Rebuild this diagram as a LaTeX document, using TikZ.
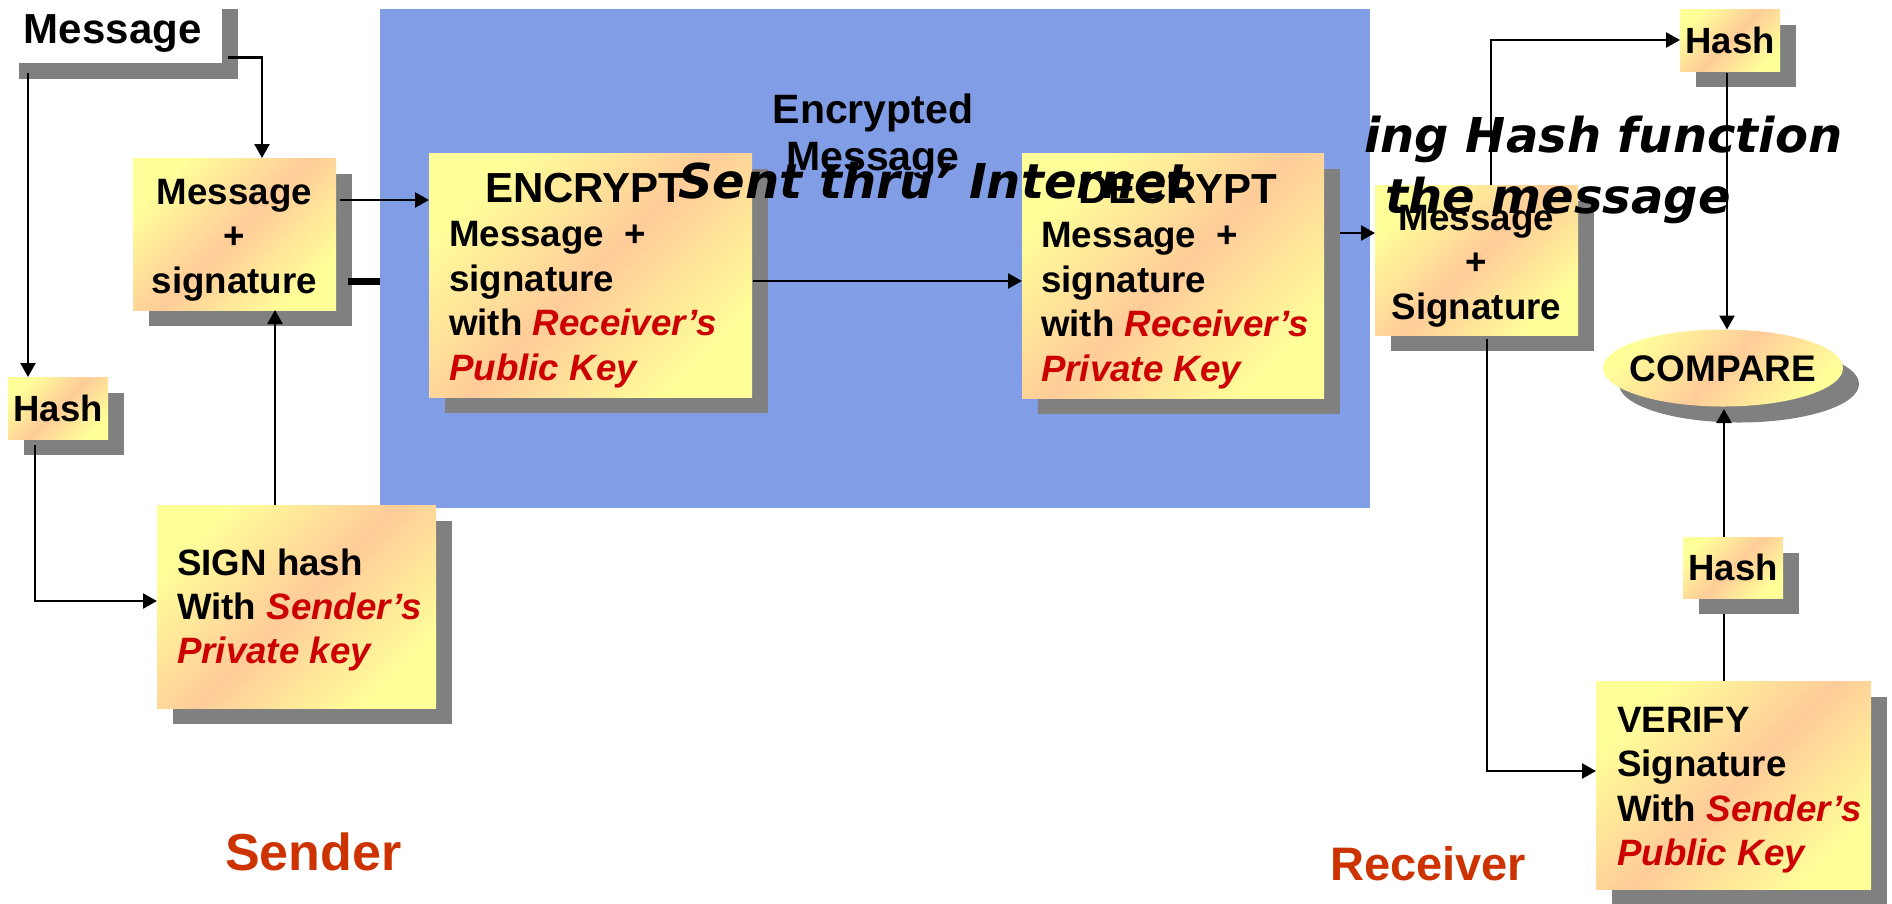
\documentclass[tikz,border=0pt]{standalone}
\usepackage{fontspec}
\setmainfont{Liberation Sans}
\newfontfamily\verdfont{DejaVu Sans}
\usetikzlibrary{arrows.meta,calc,shadows,shapes.geometric}
\definecolor{netblue}{RGB}{128,157,229}
\definecolor{shgray}{RGB}{128,128,128}
\definecolor{byel}{RGB}{255,255,153}
\definecolor{bpch}{RGB}{255,204,153}
\definecolor{keyred}{RGB}{204,0,0}
\definecolor{sidered}{RGB}{204,51,0}
\pgfdeclarehorizontalshading{boxsh}{100bp}{color(0bp)=(byel); color(25bp)=(byel); color(50bp)=(bpch); color(75bp)=(byel); color(100bp)=(byel)}
\newcommand\rk[1]{\textcolor{keyred}{\itshape #1}}
\newcommand\tstrut{\rule{0pt}{34pt}}
\begin{document}
\begin{tikzpicture}[x=1pt,y=-1pt,
  box/.style={rectangle, shading=boxsh, shading angle=-45,
    general shadow={fill=shgray, shadow xshift=16pt, shadow yshift=-16pt},
    inner sep=0pt, outer sep=0pt, anchor=north west},
  arr/.style={line width=2.5pt, -{Triangle[length=14pt,width=15pt]}},
  conn/.style={line width=2.5pt},
  txt/.style={inner sep=0pt, anchor=north west, align=left,
    font=\bfseries\fontsize{36.7}{44.5}\selectfont},
  lbl/.style={font=\bfseries\fontsize{36.5}{44}\selectfont, text height=26.3pt, text depth=0pt},
  side/.style={inner sep=0pt, anchor=base west, text=sidered},
  over/.style={inner sep=0pt, anchor=base west,
    font=\verdfont\bfseries\itshape\fontsize{48}{56}\selectfont}]
\useasboundingbox (0,0) rectangle (1892,903);

% network area
\node[rectangle, fill=netblue, inner sep=0pt, anchor=north west,
  minimum width=990pt, minimum height=499pt] (net) at (380,9) {};

% sender side
\node[rectangle, fill=white, general shadow={fill=shgray, shadow xshift=16pt, shadow yshift=-16pt},
  inner sep=0pt, anchor=north west, minimum width=219pt, minimum height=70pt,
  font=\bfseries\fontsize{42}{50}\selectfont, text height=30pt, text depth=0pt] (msgtop) at (3,-7) {Message};
\node[box, minimum width=203pt, minimum height=152pt] (mss) at (133,158) {};
\node[box, lbl, minimum width=100pt, minimum height=62pt] (hashL) at (8,377) {Hash};
\node[box, minimum width=279pt, minimum height=203pt] (sign) at (157,505) {};
\node[box, minimum width=323pt, minimum height=244pt] (enc) at (429,153) {};

% receiver side
\node[box, minimum width=302pt, minimum height=245pt] (dec) at (1022,153) {};
\node[box, minimum width=203pt, minimum height=150pt] (msr) at (1375,185) {};
\node[box, lbl, minimum width=100pt, minimum height=62pt] (hashT) at (1680,9) {Hash};
\node[box, ellipse, anchor=center, minimum width=240pt, minimum height=77pt] (cmp) at (1723,368) {};
\node[lbl, inner sep=0pt, font=\bfseries\fontsize{37}{44}\selectfont] (cmpT) at (cmp.center) {COMPARE};
\node[box, lbl, minimum width=100pt, minimum height=61pt] (hashB) at (1683,537) {Hash};
\node[box, minimum width=275pt, minimum height=208pt] (ver) at (1596,681) {};

% box texts
\node[txt, anchor=north, align=center] (mssT) at (234.5,170) {\tstrut Message\\+\\signature};
\node[txt] (encT) at (449,168) {\tstrut\hspace*{36pt}{\fontsize{42}{44.5}\selectfont ENCRYPT}\\Message\ \ +\\signature\\with \rk{Receiver’s}\\\rk{Public Key}};
\node[txt] (decT) at (1041,169) {\tstrut\hspace*{37pt}{\fontsize{42}{44.5}\selectfont DECRYPT}\\Message\ \ +\\signature\\with \rk{Receiver’s}\\\rk{Private Key}};
\node[txt] (signT) at (177,541) {\tstrut SIGN hash\\[-0.5pt]With \rk{Sender’s}\\[-0.5pt]\rk{Private key}};
\node[txt, anchor=north, align=center] (msrT) at (1476.5,196) {\tstrut Message\\+\\Signature};
\node[txt] (verT) at (1617,698) {\tstrut VERIFY\\Signature\\With \rk{Sender’s}\\\rk{Public Key}};
\node[txt, anchor=north, align=center, font=\bfseries\fontsize{41}{47}\selectfont] (encM) at (873,89) {\tstrut Encrypted\\Message};

\node[side, font=\bfseries\fontsize{52}{60}\selectfont] (sender) at (225,870) {Sender};
\node[side, font=\bfseries\fontsize{47}{55}\selectfont] (receiver) at (1330,880) {Receiver};

% connectors
\draw[arr] ($(msgtop.south east)+(6,-6)$) -| ($(mss.north west)+(129,0)$);
\draw[arr] ($(msgtop.south west)+(25,10)$) -- ($(hashL.north west)+(20,0)$);
\draw[arr] ($(hashL.south west)+(27,6)$) |- ($(sign.north west)+(0,96)$);
\draw[arr] ($(sign.north west)+(118,0)$) -- ($(mss.south west)+(142,0)$);
\draw[arr] ($(mss.north east)+(4,42)$) -- ($(enc.north west)+(0,47)$);
\draw[line width=7pt] ($(mss.north east)+(12,123)$) -- ($(net.north west)+(0,272)$);
\draw[arr] ($(enc.north east)+(1,128)$) -- ($(dec.north west)+(0,128)$);
\draw[arr] ($(dec.north east)+(16,80)$) -- ($(msr.north west)+(0,48)$);
\draw[arr] ($(msr.north west)+(116,0)$) |- (hashT.west);
\coordinate (hdown) at ($(hashT.south west)+(47,2)$);
\draw[arr] (hdown) -- (hdown |- cmp.north);
\draw[arr] ($(msr.south west)+(112,4)$) |- ($(ver.north west)+(0,90)$);
\draw[conn] ($(ver.north west)+(128,0)$) -- ($(hashB.south west)+(41,16)$);
\draw[arr] ($(hashB.north west)+(41,0)$) -- ($(cmp.south)+(1,2.5)$);

% overlapping italic captions
\node[over] (sent) at (678,198) {Sent thru’ Internet};
\node[over] (hashfn1) at (1364,152) {ing Hash function};
\node[over] (hashfn2) at (1385,213) {the message};
\end{tikzpicture}
\end{document}
